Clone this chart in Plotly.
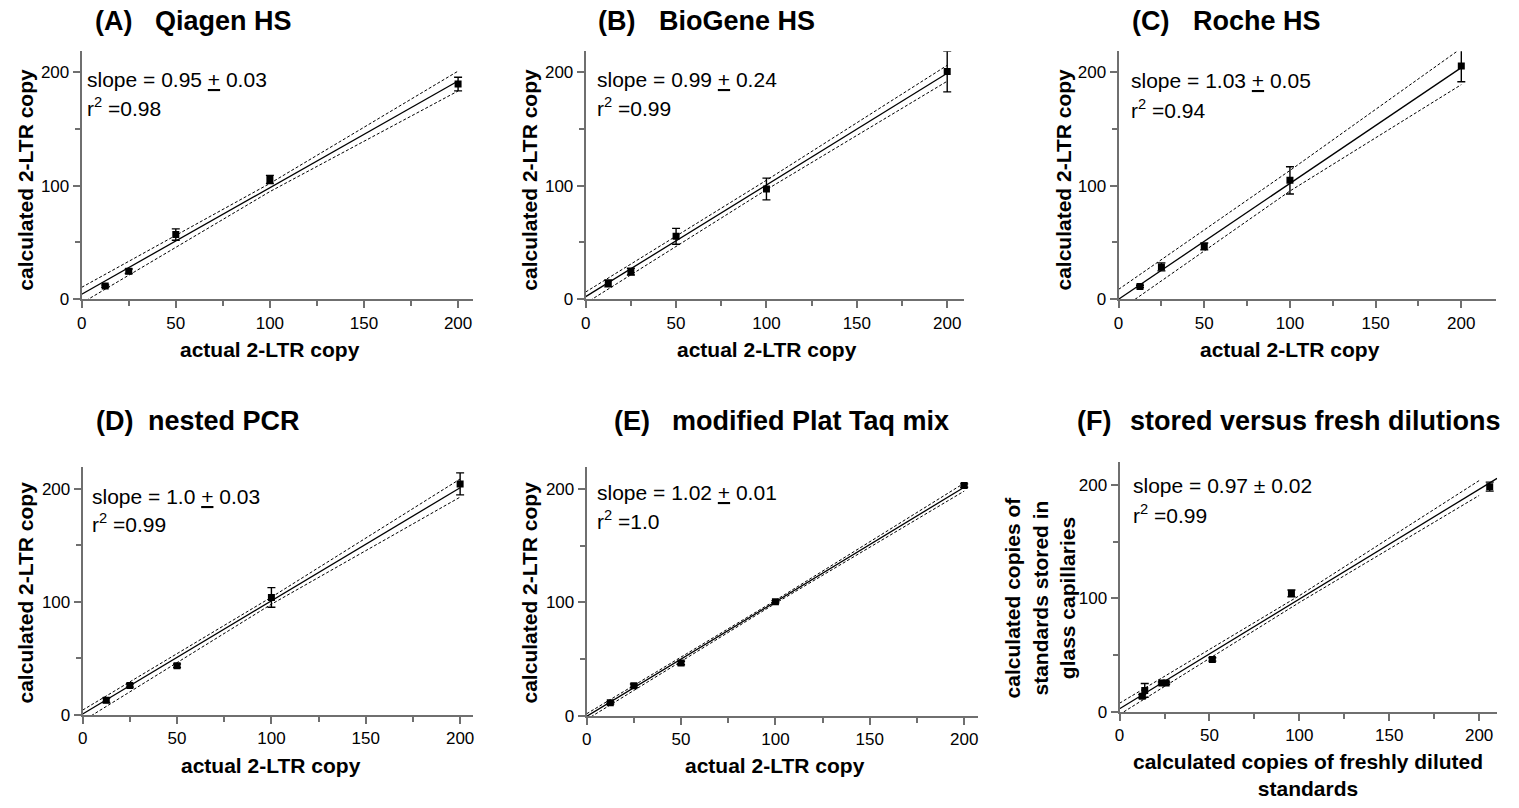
import plotly.graph_objects as go

# ---------------- data ----------------
actual_copy = [12.5, 25, 50, 100, 200]

# (A) Qiagen HS
a_y = [11.6, 24.7, 57.0, 105.5, 189.5]
a_err = [1.0, 2.0, 5.0, 3.6, 6.0]
# (B) BioGene HS
b_y = [13.9, 24.3, 55.4, 97.1, 200.6]
b_err = [3.0, 3.0, 7.0, 9.6, 18.0]
# (C) Roche HS
c_y = [11.3, 28.5, 46.5, 104.7, 205.5]
c_err = [1.0, 3.5, 3.0, 12.0, 14.0]
# (D) nested PCR
d_y = [13.1, 26.2, 43.6, 104.0, 204.4]
d_err = [2.0, 1.5, 1.5, 8.7, 9.7]
# (E) modified Plat Taq mix
e_y = [11.6, 26.7, 46.7, 100.6, 202.9]
e_err = [1.0, 1.5, 1.5, 1.0, 1.5]
# (F) stored versus fresh dilutions
f_x = [12.6, 14.0, 23.5, 25.9, 51.6, 95.6, 205.9]
f_y = [13.9, 19.1, 25.5, 25.5, 46.4, 104.5, 198.5]
f_err = [1.5, 6.0, 1.0, 1.0, 1.5, 3.0, 4.0]

# regression lines: end points (x, y) and 95% band values at band_x
fit_x = {"A": [0, 200], "B": [0, 200], "C": [0, 200], "D": [0, 200], "E": [0, 200], "F": [0, 210]}
fit_y = {"A": [4.4, 192.2], "B": [2.3, 199.0], "C": [0.0, 204.0],
         "D": [0.9, 201.0], "E": [-0.3, 201.4], "F": [2.9, 205.8]}
band_x = [0, 100, 200]
band_hi = {"A": [10.5, 102.0, 200.9], "B": [6.4, 104.8, 206.0], "C": [8.7, 113.4, 221.0],
           "D": [4.4, 104.2, 208.7], "E": [2.0, 101.8, 205.0], "F": [7.8, 102.5, 203.8]}
band_lo = {"A": [-3.4, 94.8, 183.4], "B": [-3.5, 96.5, 192.0], "C": [-10.2, 95.3, 189.0],
           "D": [-5.3, 98.0, 192.7], "E": [-3.0, 99.2, 198.0], "F": [-2.1, 96.5, 190.7]}

panel_ids = ["A", "B", "C", "D", "E", "F"]
panel_names = ["Qiagen HS", "BioGene HS", "Roche HS", "nested PCR",
               "modified Plat Taq mix", "stored versus fresh dilutions"]
slope_text = ["0.95 <u>+</u> 0.03", "0.99 <u>+</u> 0.24", "1.03 <u>+</u> 0.05",
              "1.0 <u>+</u> 0.03", "1.02 <u>+</u> 0.01", "0.97 \u00b1 0.02"]
r2_text = ["0.98", "0.99", "0.94", "0.99", "1.0", "0.99"]
x_titles = ["actual 2-LTR copy"] * 5 + ["calculated copies of freshly diluted<br>standards"]
y_titles = ["calculated 2-LTR copy"] * 5 + ["calculated copies of<br>standards stored in<br>glass capillaries"]
x_tick_vals = [0, 50, 100, 150, 200]
y_tick_vals = [0, 100, 200]

series_x = [actual_copy] * 5 + [f_x]
series_y = [a_y, b_y, c_y, d_y, e_y, f_y]
series_err = [a_err, b_err, c_err, d_err, e_err, f_err]

# ---------------- layout geometry (pixels) ----------------
W, H = 1519, 808
# plot boxes: left, right, top, bottom ; axis range max x, y
boxes = [(77, 470, 52, 303, 208.0, 218.3),
         (583, 963, 52, 303, 209.4, 218.3),
         (1118, 1497, 52, 303, 220.3, 218.3),
         (78, 470, 473, 724, 206.9, 219.2),
         (584, 977, 473, 725, 207.4, 219.1),
         (1119, 1498, 468, 721, 210.0, 220.0)]
title_pos = [(88, 149, 21), (593, 655, 21), (1129, 1191, 21),
             (89, 142, 426), (609, 668, 426), (1074, 1127, 426)]
text_pos = [(80, 81, 108), (592, 81, 108), (1128, 82, 110),
            (85, 503, 530), (592, 499, 527), (1130, 492, 520)]
ytitle_pos = [(21, 182), (527, 182), (1063, 182), (21, 600), (527, 600), (1039, 605)]
xtitle_pos = [(266, 354), (765, 354), (1290, 354), (267, 775), (773, 775), (1308, 785)]

FONT = "Liberation Sans, Arial, sans-serif"
AXIS_GRAY = "#6f6f6f"

fig = go.Figure()
annotations = []

for i, pid in enumerate(panel_ids):
    n = i + 1
    xa = "x" if n == 1 else f"x{n}"
    ya = "y" if n == 1 else f"y{n}"
    l, r, t, b, xmax, ymax = boxes[i]

    # confidence band (dashed)
    for band in (band_hi[pid], band_lo[pid]):
        fig.add_trace(go.Scatter(x=band_x, y=band, mode="lines", xaxis=xa, yaxis=ya,
                                 line=dict(color="black", width=1, dash="3px,2px"),
                                 showlegend=False, hoverinfo="skip"))
    # regression line
    fig.add_trace(go.Scatter(x=fit_x[pid], y=fit_y[pid], mode="lines", xaxis=xa, yaxis=ya,
                             line=dict(color="black", width=1.3),
                             showlegend=False, hoverinfo="skip"))
    # data points with error bars
    fig.add_trace(go.Scatter(x=series_x[i], y=series_y[i], mode="markers", xaxis=xa, yaxis=ya,
                             marker=dict(symbol="square", size=7, color="black"),
                             error_y=dict(type="data", array=series_err[i], color="black",
                                          thickness=1.4, width=4),
                             showlegend=False))

    axis_common = dict(showgrid=False, zeroline=False, showline=True, linecolor=AXIS_GRAY,
                       linewidth=2, ticks="outside", tickcolor=AXIS_GRAY, tickwidth=1.5,
                       ticklen=7, tickfont=dict(family=FONT, size=17, color="black"),
                       fixedrange=True)
    fig.update_layout({
        ("xaxis" if n == 1 else f"xaxis{n}"): dict(
            domain=[l / W, r / W], range=[0, xmax], anchor=ya,
            tickmode="array", tickvals=x_tick_vals,
            minor=dict(dtick=25, tick0=0, ticks="outside", ticklen=5,
                       tickcolor=AXIS_GRAY, tickwidth=1.5),
            **axis_common),
        ("yaxis" if n == 1 else f"yaxis{n}"): dict(
            domain=[1 - b / H, 1 - t / H], range=[0, ymax], anchor=xa,
            tickmode="array", tickvals=y_tick_vals,
            minor=dict(dtick=50, tick0=0, ticks="outside", ticklen=5,
                       tickcolor=AXIS_GRAY, tickwidth=1.5),
            **axis_common),
    })

    # panel title
    lx, nx, ty = title_pos[i]
    annotations.append(dict(text=f"<b>({pid})</b>", x=lx / W, y=1 - ty / H, xref="paper", yref="paper",
                            xanchor="left", yanchor="middle", showarrow=False,
                            font=dict(family=FONT, size=27, color="black")))
    annotations.append(dict(text=f"<b>{panel_names[i]}</b>", x=nx / W, y=1 - ty / H, xref="paper",
                            yref="paper", xanchor="left", yanchor="middle", showarrow=False,
                            font=dict(family=FONT, size=27, color="black")))
    # slope / r2 text
    sx, s1, s2 = text_pos[i]
    annotations.append(dict(text=f"slope = {slope_text[i]}", x=sx / W, y=1 - s1 / H, xref="paper",
                            yref="paper", xanchor="left", yanchor="middle", showarrow=False,
                            font=dict(family=FONT, size=21, color="black")))
    annotations.append(dict(text=f"r<sup>2</sup> =" + r2_text[i], x=sx / W, y=1 - s2 / H, xref="paper",
                            yref="paper", xanchor="left", yanchor="middle", showarrow=False,
                            font=dict(family=FONT, size=21, color="black")))
    # axis titles
    yx, yy = ytitle_pos[i]
    annotations.append(dict(text=f"<b>{y_titles[i]}</b>", x=yx / W, y=1 - yy / H, xref="paper",
                            yref="paper", xanchor="center", yanchor="middle", showarrow=False,
                            textangle=-90, font=dict(family=FONT, size=21, color="black")))
    xx, xy = xtitle_pos[i]
    annotations.append(dict(text=f"<b>{x_titles[i]}</b>", x=xx / W, y=1 - xy / H, xref="paper",
                            yref="paper", xanchor="center", yanchor="middle", showarrow=False,
                            font=dict(family=FONT, size=21, color="black")))

fig.update_layout(width=W, height=H, margin=dict(l=0, r=0, t=0, b=0),
                  paper_bgcolor="white", plot_bgcolor="white",
                  annotations=annotations, showlegend=False)

page_fix = (
    "document.documentElement.style.margin='0px';"
    "document.body.style.margin='0px';"
    "document.body.style.overflow='hidden';"
)
fig.write_html("out.html", config={"displayModeBar": False}, post_script=page_fix)
